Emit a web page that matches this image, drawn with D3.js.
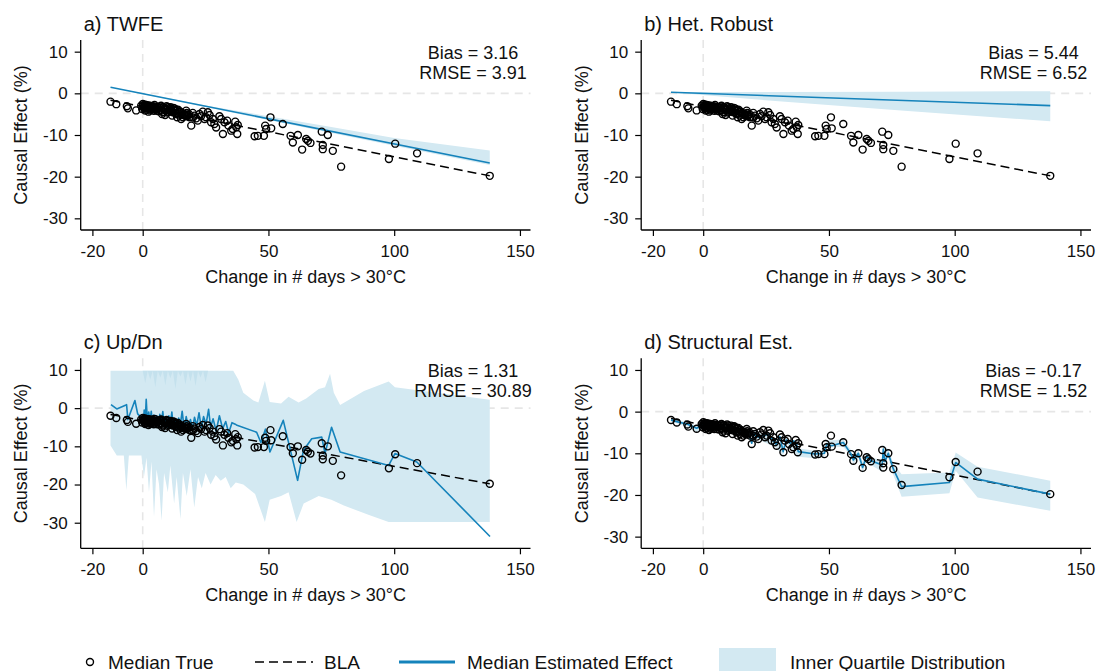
<!DOCTYPE html>
<html><head><meta charset="utf-8">
<script src="https://cdn.jsdelivr.net/npm/d3@7"></script>
<style>
body{margin:0;background:#fff}
svg{display:block}
text{font-family:"Liberation Sans",Arial,sans-serif;fill:#111}
</style></head>
<body><svg id="chart" width="1099" height="671"></svg>
<script>
// ---------------- data ----------------
const xTicks = [-20, 0, 50, 100, 150];
const yTicks = [10, 0, -10, -20, -30];

// Median true effects (same in all panels)
const trueX = [-12.8,-10.5,-6.3,-5.9,-2.6,
 -0.6,-0.2,0.05,0.45,0.7,1.0,1.4,1.8,2.0,2.3,2.7,3.1,3.4,3.6,4.0,4.4,4.7,5.4,5.8,6.0,6.7,7.1,7.3,7.7,8.0,8.4,8.7,8.9,9.5,10.0,10.4,10.7,11.1,11.3,11.7,12.0,12.4,12.6,13.0,13.3,13.7,14.0,14.4,14.6,15.0,15.3,16.0,16.4,16.6,17.3,17.7,18.0,18.6,19.3,19.9,20.6,21.3,21.9,22.6,23.2,23.9,24.6,25.2,25.9,26.6,
 0.2,0.5,0.8,1.2,1.5,2.1,2.5,2.9,3.3,3.8,4.2,5.0,5.5,6.3,6.9,7.5,8.2,9.0,9.8,10.5,11.5,12.2,12.8,13.5,14.2,15.5,16.8,17.5,18.4,20.0,
 27.2,27.9,28.5,29.2,30.5,31.2,31.9,32.5,33.6,34.1,35.2,35.8,36.8,37.2,37.6,37.8,44.5,45.8,48.2,48.7,49.1,50.8,51.1,55.7,58.8,59.7,61.7,63.4,65.0,65.7,66.7,71.2,71.6,71.6,73.6,75.6,78.9,97.9,100.4,109.1,138.0];
const trueY = [-2.0,-2.6,-3.1,-3.6,-4.1,
 -2.95,-3.75,-2.55,-3.27,-3.1,-4.15,-2.8,-3.6,-3.4,-4.4,-2.95,-3.9,-3.75,-3.27,-3.1,-4.2,-2.8,-4.15,-3.4,-3.35,-3.9,-3.1,-2.95,-4.95,-4.55,-3.75,-3.6,-5.2,-3.1,-3.35,-4.4,-4.15,-3.35,-3.75,-5.35,-4.55,-3.9,-3.6,-4.7,-4.95,-5.75,-3.9,-4.4,-5.35,-4.4,-6.15,-5.75,-5.2,-4.95,-4.15,-5.5,-5.2,-5.75,-7.75,-4.7,-5.35,-6.0,-6.55,-4.95,-5.5,-4.4,-6.15,-5.75,-4.55,-5.2,
 -3.0,-3.5,-2.7,-3.9,-3.3,-2.9,-3.6,-4.1,-3.0,-3.5,-3.8,-3.2,-3.7,-4.3,-3.4,-4.1,-3.3,-4.0,-4.6,-3.8,-4.3,-3.5,-4.2,-4.0,-4.8,-4.7,-5.4,-4.7,-5.0,-5.8,
 -6.95,-6.15,-7.35,-8.2,-5.5,-6.15,-9.76,-6.95,-6.55,-7.75,-8.96,-8.56,-6.8,-8.15,-9.76,-7.6,-10.3,-10.2,-10.2,-7.75,-8.56,-5.76,-8.4,-7.36,-10.2,-11.8,-10.0,-13.5,-10.96,-11.4,-11.9,-9.2,-12.4,-13.4,-10.0,-13.8,-17.6,-15.76,-12.08,-14.4,-19.8];

// Best linear approximation
const blaX = [-12.8, 138.0];
const blaY = [-1.67, -19.80];

// a) TWFE
const aLineX = [-12.8, 138.0];
const aLineY = [1.45, -16.7];
const aBandX = [-12.8, 0, 25, 50, 75, 100, 138];
const aBandHi = [1.45, 0.0, -2.9, -5.5, -8.1, -10.7, -13.7];
const aBandLo = [1.45, -0.2, -3.3, -6.4, -9.5, -12.6, -17.2];

// b) Het. Robust
const bLineX = [-12.8, 138.0];
const bLineY = [0.25, -2.95];
const bBandX = [-12.8, 30, 80, 138];
const bBandHi = [0.3, 0.3, 0.4, 0.5];
const bBandLo = [0.2, -1.9, -4.2, -6.7];

// c) Up/Dn
const cLineX = [-12.6,-10.3,-6.4,-5.9,-3.1,-2.0,-0.5,0.2,0.6,1.0,1.4,1.9,2.4,2.9,3.4,3.9,4.4,5.0,5.6,6.2,6.8,7.4,8.0,8.6,9.2,9.8,10.4,11.0,11.6,12.2,12.9,13.6,14.3,15.0,15.7,16.5,17.3,18.1,19.0,19.8,20.6,21.5,22.4,23.3,24.2,25.2,26.2,27.0,28.0,29.2,30.5,31.8,33.0,34.2,35.5,36.8,37.5,45.3,47.0,48.8,50.6,55.9,61.6,63.9,67.2,71.2,72.5,75.1,78.5,97.8,100.3,109.0,138.1];
const cLineY = [0.9,-0.2,0.9,-3.0,2.0,-1.5,-2.5,-4.5,-0.5,-3.5,2.3,-4.0,-1.0,-3.8,-0.8,-4.2,-1.8,-3.9,-2.0,-4.6,-1.6,-3.6,-0.9,-4.8,-2.4,-5.0,-2.0,-4.5,-1.0,-5.2,-3.0,-5.6,-2.6,-4.2,-0.8,-5.5,-2.2,-4.8,-3.0,-5.4,-2.4,-4.6,-1.2,-5.2,-2.2,-4.2,-0.3,-5.0,-2.8,-6.0,-2.0,-5.4,-3.5,-6.5,-3.8,-4.2,-4.5,-6.3,-9.0,-5.5,-11.5,-3.2,-18.9,-11.1,-8.0,-7.6,-11.9,-5.0,-11.5,-15.0,-11.9,-14.1,-33.6];
const cBandHiX = [-12.8,36.0,38.0,40.0,44.0,46.0,48.6,50.5,55.0,58.0,62.0,65.0,70.0,72.5,74.5,76.0,78.5,88.0,97.8,100.3,138.0];
const cBandHiY = [9.8,9.8,7.5,4.0,2.0,1.5,7.2,1.6,1.2,3.0,1.5,2.5,5.0,5.5,9.0,4.0,0.8,4.5,7.0,5.5,2.2];
const cBandLoX = [-12.8,-10.3,-7.5,-6.5,-5.5,-0.5,0.5,1.5,2.5,3.5,4.5,5.5,6.5,7.5,8.5,10,11,12.5,13.5,15,16,17.5,19,20.5,22,23.5,25,27,29,31,33,35,37,40,44.7,48.6,50.5,55,58,61.2,64,70,75,80,90,97.8,110,138];
const cBandLoY = [-9.8,-12.4,-12.4,-21.5,-12.4,-12.4,-18,-13,-22,-14,-28.5,-16,-20,-29.5,-17,-22,-15,-25,-18,-29,-17,-23,-16,-26,-18,-21,-17,-20,-17.5,-19,-18,-21,-19.5,-20,-22.5,-29.8,-24,-23,-22,-29.8,-25,-23,-24,-25.5,-28,-29.8,-29.8,-29.8];
// slightly darker overlapping spikes at the top of the c band
const cDarkX = [0,1,2,3,4,5,6,7,8,9,10,11,12,13,14,15,16,17,18,19,20,21,22,23,24,25,26,27];
const cDarkY = [9.8,6.5,9.8,7.5,9.8,5.5,9.8,8.0,9.8,6.0,9.8,7.8,9.8,5.0,9.8,8.3,9.8,6.2,9.8,7.0,9.8,5.8,9.8,8.0,9.8,6.8,9.8,9.8];

// d) Structural Est.
const dLineX = [-12.8,-10.5,-6.2,-2.6,-0.5,2,4,6,8,10,12,14,16,18,19.3,20,22,24,26,27.5,29,30.5,31.8,33,34.5,36,37.2,37.8,44.5,48.2,49.1,51.1,55.7,58.8,59.7,61.7,63.4,65.0,66.7,71.2,71.6,72.3,73.6,75.6,78.9,97.9,100.4,109.1,138.0];
const dLineY = [-2.0,-2.4,-3.04,-4.0,-3.1,-3.4,-3.3,-3.6,-4.2,-4.0,-4.4,-4.6,-5.2,-5.3,-7.6,-5.2,-6.2,-5.8,-5.4,-6.8,-7.8,-6.0,-9.6,-6.8,-7.6,-7.0,-8.0,-9.6,-10.15,-10.0,-7.8,-8.2,-7.4,-10.2,-11.6,-10.0,-13.4,-10.6,-11.8,-12.8,-9.0,-12.0,-10.0,-13.75,-18.0,-17.0,-12.2,-16.2,-19.8];
const dBandX = [-12.8,-6.2,-2.6,0,10,20,29,31.8,33,37.8,44.5,48.2,49.1,55.7,58.8,59.7,61.7,63.4,65,66.7,71.2,71.6,73.6,75.6,78.9,97.9,100.4,109.1,138];
const dBandHi = [-1.6,-2.6,-3.4,-2.6,-3.4,-4.4,-6.8,-8.4,-6.2,-8.8,-9.4,-9.2,-7.0,-6.6,-9.2,-10.8,-9.2,-12.0,-9.8,-11.0,-11.6,-8.0,-9.0,-12.4,-15.0,-14.6,-9.8,-13.2,-16.6];
const dBandLo = [-2.4,-3.6,-4.9,-3.8,-4.8,-6.2,-8.6,-10.6,-7.6,-10.8,-11.2,-10.8,-8.6,-8.4,-10.8,-12.6,-11.0,-14.8,-11.6,-12.8,-14.4,-10.0,-11.2,-15.2,-20.4,-19.6,-14.2,-20.6,-23.8];

const titles = ["a) TWFE", "b) Het. Robust", "c) Up/Dn", "d) Structural Est."];
const biasVals = ["3.16", "5.44", "1.31", "-0.17"];
const rmseVals = ["3.91", "6.52", "30.89", "1.52"];
const yDomains = [[-32.8, 12.8], [-32.8, 12.8], [-36.7, 13.05], [-32.8, 12.8]];
const xDomain = [-24.65, 154.2];

// ---------------- drawing ----------------
const svg = d3.select("#chart");
const BLUE = "#1583bb", BAND = "#d3e9f2", BAND2 = "#c4e1ed";
const W = 449.8, H = 190;
const lefts = [80.7, 641.2, 80.7, 641.2];
const tops = [40, 40, 358.3, 358.3];

const pairs = (xs, ys) => xs.map((x, i) => [x, ys[i]]);
const panels = [
  {line: pairs(aLineX, aLineY), hi: pairs(aBandX, aBandHi), lo: pairs(aBandX, aBandLo)},
  {line: pairs(bLineX, bLineY), hi: pairs(bBandX, bBandHi), lo: pairs(bBandX, bBandLo)},
  {line: pairs(cLineX, cLineY), hi: pairs(cBandHiX, cBandHiY), lo: pairs(cBandLoX, cBandLoY),
   dark: pairs(cDarkX, cDarkY)},
  {line: pairs(dLineX, dLineY), hi: pairs(dBandX, dBandHi), lo: pairs(dBandX, dBandLo)}
];
const truePts = pairs(trueX, trueY);
const blaPts = pairs(blaX, blaY);

panels.forEach((p, i) => {
  const L = lefts[i], T = tops[i];
  const x = d3.scaleLinear().domain(xDomain).range([L, L + W]);
  const y = d3.scaleLinear().domain(yDomains[i]).range([T + H, T]);
  const g = svg.append("g");
  const line = d3.line().x(d => x(d[0])).y(d => y(d[1]));

  // zero reference lines
  g.append("line").attr("x1", L).attr("x2", L + W).attr("y1", y(0)).attr("y2", y(0))
    .attr("stroke", "#e6e6e6").attr("stroke-width", 1.6).attr("stroke-dasharray", "8,6");
  g.append("line").attr("x1", x(0)).attr("x2", x(0)).attr("y1", T).attr("y2", T + H)
    .attr("stroke", "#e6e6e6").attr("stroke-width", 1.6).attr("stroke-dasharray", "8,6");

  // band polygon (upper left->right, lower right->left)
  const poly = p.hi.concat(p.lo.slice().reverse());
  g.append("path").attr("d", line(poly) + "Z").attr("fill", BAND).attr("stroke", "none");
  if (p.dark) {
    g.append("path").attr("d", line(p.dark) + "Z").attr("fill", BAND2).attr("stroke", "none");
  }

  // BLA dashed
  g.append("path").attr("d", line(blaPts)).attr("fill", "none").attr("stroke", "#000")
    .attr("stroke-width", 1.5).attr("stroke-dasharray", "9,5");

  // median estimated effect
  g.append("path").attr("d", line(p.line)).attr("fill", "none").attr("stroke", BLUE)
    .attr("stroke-width", 1.6).attr("stroke-linejoin", "round");

  // true points
  g.selectAll("circle.t").data(truePts).join("circle").attr("class", "t")
    .attr("cx", d => x(d[0])).attr("cy", d => y(d[1])).attr("r", 3.5)
    .attr("fill", "none").attr("stroke", "#000").attr("stroke-width", 1.4);

  // axes
  const ax = g.append("g").attr("transform", `translate(0,${T + H})`)
    .call(d3.axisBottom(x).tickValues(xTicks).tickFormat(d => String(d)).tickSizeOuter(0).tickSize(6).tickPadding(9));
  const ay = g.append("g").attr("transform", `translate(${L},0)`)
    .call(d3.axisLeft(y).tickValues(yTicks).tickFormat(d => String(d)).tickSizeOuter(0).tickSize(6).tickPadding(7));
  [ax, ay].forEach(a => {
    a.select(".domain").attr("stroke", "#000").attr("stroke-width", 1.3);
    a.selectAll(".tick line").attr("stroke", "#000").attr("stroke-width", 1.2);
    a.selectAll(".tick text").attr("font-size", 17).attr("fill", "#111")
      .attr("font-family", '"Liberation Sans",Arial,sans-serif');
  });
  ax.select(".domain").attr("d", `M${L},0H${L + W}`);
  ay.select(".domain").attr("d", `M0,${T}V${T + H}`);

  // titles
  g.append("text").attr("x", L + 3).attr("y", T - 9).attr("font-size", 20).text(titles[i]);
  g.append("text").attr("x", L + W / 2).attr("y", T + H + 52.5).attr("text-anchor", "middle")
    .attr("font-size", 18).text("Change in # days > 30°C");
  g.append("text").attr("transform", `translate(${L - 53.7},${T + H / 2}) rotate(-90)`)
    .attr("text-anchor", "middle").attr("font-size", 18).text("Causal Effect (%)");
  g.append("text").attr("x", L + W - 57.5).attr("y", T + 18.5).attr("text-anchor", "middle")
    .attr("font-size", 18).text("Bias = " + biasVals[i]);
  g.append("text").attr("x", L + W - 57.5).attr("y", T + 39).attr("text-anchor", "middle")
    .attr("font-size", 18).text("RMSE = " + rmseVals[i]);
});

// legend
const lg = svg.append("g");
const LY = 662, LT = 668.5;
lg.append("circle").attr("cx", 90).attr("cy", LY).attr("r", 3.5).attr("fill", "none")
  .attr("stroke", "#000").attr("stroke-width", 1.4);
lg.append("text").attr("x", 108).attr("y", LT).attr("font-size", 19).text("Median True");
lg.append("line").attr("x1", 255).attr("x2", 313).attr("y1", LY).attr("y2", LY)
  .attr("stroke", "#000").attr("stroke-width", 1.6).attr("stroke-dasharray", "9,5");
lg.append("text").attr("x", 324).attr("y", LT).attr("font-size", 19).text("BLA");
lg.append("line").attr("x1", 399).attr("x2", 455).attr("y1", LY).attr("y2", LY)
  .attr("stroke", BLUE).attr("stroke-width", 3);
lg.append("text").attr("x", 467).attr("y", LT).attr("font-size", 19).text("Median Estimated Effect");
lg.append("rect").attr("x", 719).attr("y", 648).attr("width", 57).attr("height", 24).attr("fill", BAND);
lg.append("text").attr("x", 790).attr("y", LT).attr("font-size", 19).text("Inner Quartile Distribution");
</script></body></html>
